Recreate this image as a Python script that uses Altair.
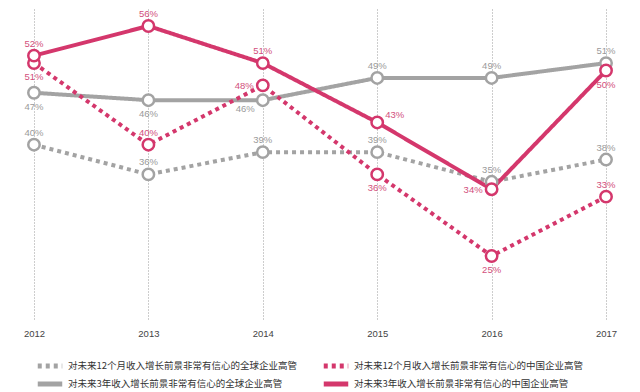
import altair as alt
import pandas as pd

years = [2012, 2013, 2014, 2015, 2016, 2017]
series_names = [
    "对未来12个月收入增长前景非常有信心的全球企业高管",
    "对未来3年收入增长前景非常有信心的全球企业高管",
    "对未来12个月收入增长前景非常有信心的中国企业高管",
    "对未来3年收入增长前景非常有信心的中国企业高管",
]
global_12m = [40, 36, 39, 39, 35, 38]
global_3y = [47, 46, 46, 49, 49, 51]
china_12m = [51, 40, 48, 36, 25, 33]
china_3y = [52, 56, 51, 43, 34, 50]

# label placement per point
pos_global_12m = ["above", "above", "above", "above", "above", "above"]
pos_global_3y = ["below", "below", "belowleft", "above", "above", "above"]
pos_china_12m = ["below", "above", "left", "below", "below", "above"]
pos_china_3y = ["above", "above", "above", "right", "left", "below"]

PINK = "#d4376c"
GREY = "#a3a3a3"
PINK_T = "#d24f7c"
GREY_T = "#9a9a9a"

rows = []
for name, vals, pos in zip(series_names,
                           [global_12m, global_3y, china_12m, china_3y],
                           [pos_global_12m, pos_global_3y, pos_china_12m, pos_china_3y]):
    for y, v, p in zip(years, vals, pos):
        rows.append({"series": name, "year": y, "value": v, "pos": p, "label": f"{v}%"})
df = pd.DataFrame(rows)

color_scale = alt.Scale(domain=series_names, range=[GREY, GREY, PINK, PINK])
dash_scale = alt.Scale(domain=series_names, range=[[4, 4], [1, 0], [4, 4], [1, 0]])
text_scale = alt.Scale(domain=series_names, range=[GREY_T, GREY_T, PINK_T, PINK_T])

xs = alt.X("year:Q",
           scale=alt.Scale(domain=[2011.773, 2017.227], nice=False, zero=False),
           axis=alt.Axis(values=years, format="d", title=None, domain=False, ticks=False,
                         grid=True, gridDash=[1, 2], gridColor="#9a9a9a", gridWidth=1,
                         labelFontSize=9.5, labelColor="#444444", labelPadding=9,
                         labelFont="Liberation Sans"))
ys = alt.Y("value:Q", scale=alt.Scale(domain=[16.51, 58.29], nice=False, zero=False), axis=None)

base = alt.Chart(df)

lines = base.mark_line(strokeWidth=4, strokeCap="butt").encode(
    x=xs, y=ys,
    color=alt.Color("series:N", scale=color_scale,
                    legend=alt.Legend(title=None, orient="none", legendX=27, legendY=350,
                                      columns=2, columnPadding=23, rowPadding=4,
                                      clipHeight=14,
                                      symbolType="stroke", symbolStrokeWidth=5,
                                      symbolSize=600, labelFontSize=9.5,
                                      labelFont="Noto Sans CJK SC", labelColor="#333333",
                                      labelOffset=3, labelLimit=400)),
    strokeDash=alt.StrokeDash("series:N", scale=dash_scale, legend=None),
    detail="series:N",
)

points = base.mark_point(filled=True, fill="white", size=130, strokeWidth=2.5, opacity=1).encode(
    x=xs, y=ys,
    stroke=alt.Stroke("series:N", scale=color_scale, legend=None),
)

offsets = {
    "above": dict(dy=-12, align="center"),
    "below": dict(dy=14, align="center"),
    "left": dict(dx=-9, dy=1, align="right"),
    "right": dict(dx=8, dy=-7, align="left"),
    "belowleft": dict(dx=-8, dy=9, align="right"),
}
texts = []
for p, kw in offsets.items():
    texts.append(
        base.transform_filter(alt.datum.pos == p)
        .mark_text(fontSize=9.5, font="Liberation Sans", baseline="middle", **kw)
        .encode(x=xs, y=ys, text="label:N",
                fill=alt.Fill("series:N", scale=text_scale, legend=None))
    )

chart = alt.layer(lines, points, *texts).properties(
    width=624, height=310, padding=0, background="white"
).configure_view(stroke=None)

chart.save("out.html", embed_options={"renderer": "svg", "actions": False})
